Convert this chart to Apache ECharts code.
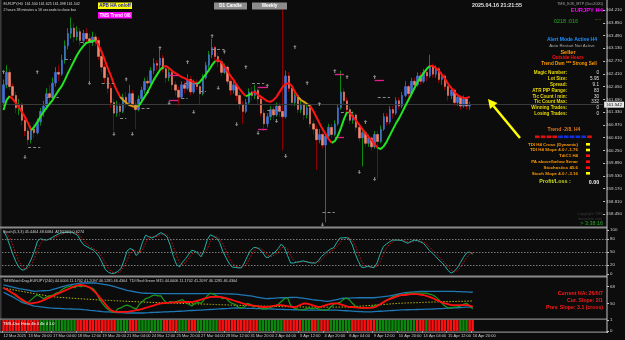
<!DOCTYPE html>
<html><head><meta charset="utf-8">
<script src="https://cdn.jsdelivr.net/npm/echarts@6/dist/echarts.min.js"></script>
<style>html,body{margin:0;padding:0;background:#0c0c0c;overflow:hidden}#c{width:625px;height:340px}</style>
</head><body><div id="c"></div><script>
// ---- DATA ----
// candles: [open, close, low, high] for each H4 bar, 12 Mar 12:00 .. 16 Apr 20:00
const candles = [
[161.60,162.10,161.50,162.25],[162.10,162.45,162.00,162.65],[162.45,162.05,161.95,162.55],[162.05,161.80,161.65,162.15],[161.80,161.45,161.30,161.90],
[161.45,161.55,161.25,161.70],[161.55,161.10,160.95,161.60],[161.10,160.80,160.65,161.20],[160.80,160.55,160.40,160.90],[160.55,160.85,160.45,160.95],
[160.85,160.75,160.60,161.00],[160.75,161.05,160.70,161.15],[161.05,161.35,160.95,161.45],[161.35,161.50,161.20,161.65],[161.50,161.85,161.40,162.00],
[161.85,161.75,161.60,162.10],[161.75,162.15,161.70,162.30],[162.15,162.45,162.05,162.60],[162.45,162.40,162.20,162.65],[162.40,162.80,162.35,162.95],
[162.80,163.20,162.70,163.35],[163.20,163.55,163.10,163.70],[163.55,163.70,163.40,164.00],[163.70,163.45,163.30,163.85],[163.45,163.60,163.35,163.75],
[163.60,163.35,163.20,163.70],[163.35,163.55,163.25,163.65],[163.55,163.40,163.30,163.70],[163.40,163.30,162.20,163.55],[163.30,163.45,163.20,163.60],
[163.45,163.35,163.20,163.55],[163.35,162.90,162.80,163.45],[162.90,162.60,162.45,163.00],[162.60,162.30,162.15,162.70],[162.30,162.00,161.85,162.40],
[162.00,161.60,161.45,162.10],[161.60,161.30,160.80,161.70],[161.30,161.50,161.20,161.65],[161.50,161.35,161.20,161.60],[161.35,161.75,161.30,161.85],
[161.75,161.60,161.45,161.90],[161.60,161.85,161.50,162.10],[161.85,161.55,161.45,161.95],[161.55,161.40,160.85,161.65],[161.40,161.70,161.35,161.80],
[161.70,161.95,161.60,162.05],[161.95,162.20,161.85,162.30],[162.20,162.15,162.00,162.35],[162.15,162.50,162.10,162.60],[162.50,162.70,162.40,162.85],
[162.70,162.65,162.50,162.80],[162.65,162.85,162.55,163.10],[162.85,162.55,162.45,162.95],[162.55,162.30,162.15,162.65],[162.30,162.45,162.20,162.55],
[162.45,162.10,161.95,162.50],[162.10,161.95,161.80,162.20],[161.95,161.75,161.50,162.05],[161.75,162.10,161.70,162.20],[162.10,162.00,161.85,162.20],
[162.00,162.25,161.95,162.40],[162.25,161.90,161.80,162.35],[161.90,162.15,161.85,162.25],[162.15,162.05,161.95,162.25],[162.05,161.85,161.55,162.10],
[161.85,162.30,161.80,162.40],[162.30,162.65,162.25,162.75],[162.65,162.95,162.55,163.05],[162.95,163.15,162.85,163.40],[163.15,162.90,162.80,163.20],
[162.90,162.75,162.60,163.00],[162.75,162.45,162.35,162.85],[162.45,162.60,162.40,162.70],[162.60,162.20,162.10,162.65],[162.20,161.95,161.80,162.30],
[161.95,162.10,161.85,162.20],[162.10,161.80,161.65,162.15],[161.80,161.55,161.40,161.90],[161.55,161.35,161.00,161.65],[161.35,161.60,161.30,161.70],
[161.60,161.90,161.55,162.00],[161.90,161.80,161.65,162.05],[161.80,161.95,161.70,162.10],[161.95,161.70,161.55,162.05],[161.70,161.30,161.20,161.80],
[161.30,161.00,160.80,161.40],[161.00,161.20,160.90,161.30],[161.20,161.40,161.10,161.50],[161.40,161.25,161.10,161.50],[161.25,161.50,161.20,161.60],
[161.50,161.35,161.20,161.60],[161.35,161.20,160.25,164.40],[161.20,162.35,161.15,162.50],[162.35,162.00,161.90,162.45],[162.00,161.60,161.50,162.10],
[161.60,161.80,161.50,161.95],[161.80,161.40,161.30,161.85],[161.40,161.55,161.30,161.65],[161.55,161.25,161.10,161.60],[161.25,161.45,161.15,161.55],
[161.45,161.00,160.90,161.50],[161.00,160.85,160.70,161.10],[160.85,160.55,159.70,160.95],[160.55,160.70,160.45,160.85],[160.70,160.40,160.30,160.75],
[160.40,160.65,158.22,160.75],[160.65,160.90,160.55,161.00],[160.90,160.70,160.60,161.00],[160.70,161.00,160.65,161.10],[161.00,161.45,160.95,161.55],
[161.45,161.90,161.40,162.50],[161.90,161.65,161.55,162.00],[161.65,161.40,161.30,161.75],[161.40,161.10,161.00,161.50],[161.10,161.25,161.00,161.35],
[161.25,160.90,160.80,161.30],[160.90,160.60,160.50,161.00],[160.60,160.75,159.80,160.85],[160.75,160.45,160.35,160.80],[160.45,160.60,160.35,160.70],
[160.60,160.35,160.25,160.65],[160.35,160.70,160.30,160.80],[160.70,160.50,159.45,160.80],[160.50,160.85,160.45,160.95],[160.85,161.20,160.80,161.30],
[161.20,161.05,160.95,161.30],[161.05,161.40,161.00,161.50],[161.40,161.30,161.15,161.50],[161.30,161.65,161.25,161.75],[161.65,161.50,161.40,161.75],
[161.50,161.80,161.45,161.90],[161.80,162.05,161.75,162.20],[162.05,161.85,161.75,162.10],[161.85,162.20,161.80,162.30],[162.20,162.10,161.95,162.30],
[162.10,162.35,162.05,162.45],[162.35,162.20,162.10,162.45],[162.20,162.45,162.15,162.55],[162.45,162.35,162.20,162.55],[162.35,162.60,162.30,162.95],
[162.60,162.40,162.30,162.70],[162.40,162.55,162.30,162.65],[162.55,162.25,162.15,162.60],[162.25,162.35,162.10,162.45],[162.35,162.05,161.95,162.40],
[162.05,161.80,161.65,162.10],[161.80,161.95,161.70,162.05],[161.95,161.60,161.50,162.00],[161.60,161.75,161.50,161.85],[161.75,161.50,161.40,161.80],
[161.50,161.70,161.45,161.80],[161.70,161.50,161.40,161.75],[161.500,161.542,161.398,161.625]
];
const lastPrice = 161.542;
// trend line (HA trend) value per bar, and its colour runs (g=up, r=down, o=flat)
const trend = [
161.39,161.67,161.78,161.70,161.59,161.47,161.33,161.19,161.02,160.82,
160.91,161.05,161.19,161.33,161.45,161.56,161.67,161.81,161.95,162.07,
162.24,162.43,162.60,162.77,162.94,163.08,163.19,163.28,163.31,163.34,
163.34,163.22,163.03,162.80,162.57,162.35,162.12,161.93,161.76,161.67,
161.59,161.53,161.50,161.47,161.50,161.62,161.76,161.90,162.07,162.24,
162.38,162.52,162.60,162.63,162.57,162.49,162.43,162.38,162.32,162.29,
162.24,162.21,162.18,162.12,162.18,162.29,162.40,162.52,162.66,162.77,
162.80,162.74,162.63,162.49,162.35,162.24,162.09,161.98,161.87,161.78,
161.81,161.87,161.90,161.81,161.76,161.70,161.64,161.62,161.67,161.76,
161.90,162.04,162.12,162.15,162.07,161.90,161.76,161.67,161.62,161.56,
161.50,161.36,161.19,161.02,160.85,160.71,160.57,160.46,160.51,160.66,
160.88,161.13,161.33,161.30,161.19,161.08,160.97,160.85,160.74,160.63,
160.54,160.43,160.32,160.29,160.37,160.51,160.68,160.85,161.02,161.16,
161.33,161.50,161.67,161.84,162.01,162.18,162.32,162.43,162.55,162.63,
162.63,162.57,162.49,162.38,162.26,162.12,162.01,161.90,161.81,161.76,
161.73,161.73,161.76
];
const trendRuns = [['g',3],['r',7],['g',21],['r',8],['o',6],['g',8],['r',11],['g',6],['r',10],['g',2],['r',15],['o',4],['r',7],['g',5],['r',10],['g',17],['r',13]];
// fractal arrows: [bar, price]
const fractalUp = [[0,162.46],[11,162.46],[40,162.26],[51,163.14],[60,162.74],[68,163.48],[72,163.03],[79,162.60],[86,162.07],[95,163.17],[99,162.15],[103,161.56],[108,162.49],[112,162.32],[118,161.05],[121,162.32]];
const fractalDown = [[7,160.06],[28,162.15],[36,160.71],[42,160.71],[47,161.90],[54,161.59],[62,161.33],[70,162.01],[76,160.99],[83,160.74],[89,161.08],[92,160.09],[104,158.15],[116,159.64],[121,159.44]];
// short level segments: [fromBar, toBar, price]
const grayLevels = [[8,12,160.34],[14,18,161.76],[20,22,162.83],[25,30,163.31],[32,36,162.15],[38,40,161.16],[45,48,161.45],[58,60,161.73],[59,64,162.15],[64,66,161.92],[68,72,163.11],[81,85,162.15],[86,90,161.39],[104,108,158.51],[110,114,161.33],[122,126,161.76]];
const magentaLevels = [[54,57,162.38],[54,57,161.67],[83,86,162.04],[83,86,160.85],[108,111,162.40],[108,111,160.63],[121,124,162.24]];
// Stochastic(5,3,3)
const stochK = [98,85,65,45,28,15,9,10,20,34,
52,75,80,78,77,80,84,88,92,94,
95,95,95,92,88,75,66,62,58,55,
48,39,25,10,4,1,2,6,12,30,
52,58,55,42,50,72,88,85,82,85,
90,94,90,84,65,40,22,16,27,35,
45,54,52,47,39,55,78,89,86,82,
72,52,38,25,16,15,14,14,25,40,
53,60,60,56,48,38,38,45,50,58,
68,60,42,25,25,27,28,30,28,26,
25,25,30,40,46,52,57,60,72,82,
82,83,80,66,45,28,15,15,18,16,
14,25,45,62,68,73,77,77,77,76,
73,70,74,77,76,73,70,62,53,47,
40,32,26,18,8,2,6,14,26,38,
48,50,45.4464];
const stochD = [95,92,83,65,46,29,17,11,13,21,
35,54,69,78,78,78,80,84,88,91,
94,95,95,94,92,85,76,68,62,58,
54,47,37,25,13,5,2,3,7,16,
31,47,55,52,49,55,70,82,85,84,
86,90,91,89,80,63,42,26,22,26,
36,45,50,51,46,47,57,74,84,86,
80,69,54,38,26,19,15,14,18,26,
39,51,58,59,55,47,41,40,44,51,
59,62,57,42,31,26,27,28,28,28,
26,25,27,32,39,46,52,56,63,71,
79,82,82,76,64,46,29,19,16,16,
16,18,28,44,58,68,73,76,77,77,
75,73,72,74,76,75,73,68,62,54,
47,40,33,25,17,9,5,7,15,26,
37,45,48.6084];
// TDI lines
const tdiGreen = [67,65,63,61,58,56,53,51,51,54,
57,59,57,55,57,58,59,61,62,65,
67,68,69,67,69,68,69,68,67,66,
62,55,50,46,43,41,40,44,45,47,
48,47,45,44,49,52,55,56,58,59,
58,58,53,50,52,51,52,53,54,51,
49,47,50,51,50,54,58,61,60,58,
57,55,56,52,50,49,46,45,46,50,
49,46,47,45,44,43.8,45,46,47,49,
52,55,56,48,45,44,43,43,44,45,
44,45,44,43,42.7,43,46,49,50,51,
54,55.7,54,50,47,46,45,45,45,46,
47,48,48,51,53,55,57,58,59,59,
60,61,61,61,61,61,61,61,60,59,
57,54,50,47,45,45,46,46,47,49,
50,47,44];
const tdiRed = [66.6,65,63,61,59,56,54,52,50,50,
50.5,51,52,53.5,55,56.5,58,59.5,61,62.5,
64,65.5,67,68.5,69.5,70,69.5,68.5,67,64,
61,57,53,49,45,42,41,40.6,40.6,40.6,
40.8,41.2,41.8,42.5,43,44,45,46,47,48,
49,50,50.3,50.5,50.7,51,51,51.2,51.3,51.4,
51.4,51.4,52,53,54,55,56,57,57,57,
57,56.5,55.5,54.5,53.6,52.5,51.5,50.5,49.5,48.5,
48,47.5,47,46.5,46,46,46.5,47,47.5,48,
48,47.5,47,46.5,46,46.5,48,49.5,50,49,
48,47,46,46.5,47.5,48.5,49.5,50,50,49,
48,47,46,46,45.5,45.2,45,45,45,45,
45.5,47,49,51,53,54.5,55.7,57,58,59,
59,59.5,60,60,60,59.5,59,58,57,55.7,
54,52.5,51,50,49,48,48,48,48,48,
48,47.5,46.4];
const tdiYellow = [66.5,65.9,65.3,64.7,64.1,63.5,62.9,62.3,61.7,61.1,60.5,59.9,59.3,58.7,58.1,57.5,57.0,
56.8,56.5,56.3,56.0,55.8,55.6,55.3,55.1,54.9,54.7,54.5,54.3,54.0,53.8,53.6,
53.5,53.3,53.2,53.0,52.8,52.7,52.5,52.3,52.2,52.0,51.9,51.7,51.5,51.4,51.2,51.1,51.0,50.9,50.7,50.6,50.4,50.3,
50.2,50.1,50.0,49.9,49.8,49.7,49.6,49.5,49.4,49.3,49.2,49.1,49.0,48.9,48.8,48.6,48.5,48.4,48.3,48.1,48.0,
47.9,47.8,47.7,47.6,47.5,47.4,47.3,47.2,47.1,47.0,46.9,46.8,46.7,46.6,46.5,46.4,46.4,46.3,46.2,46.1,46.1,46.0,
46.0,45.9,45.9,45.9,45.8,45.8,45.8,45.8,45.8,45.8,45.9,45.9,45.9,46.0,46.0,46.0,
46.2,46.5,46.7,47.0,47.2,47.5,47.7,48.0,48.2,48.5,48.7,49.0,49.2,49.5,49.7,50.0,
50.1,50.3,50.4,50.5,50.6,50.7,50.8,51.0,51.1,51.2,51.4,
51.5,51.6,51.7,51.8,51.8,51.9,52.0,52.1,52.2,52.2,52.3,52.4,52.5];
const tdiUpper = [70,69.2,68.4,67.6,66.8, 66,65.4,64.8,64.2,63.6, 63,63.2,63.4,63.6,63.8, 64,65,66,67,68,
69,69.6,70.2,70.8,71.4, 72,72,72,72,72, 72,71.4,70.8,70.2,69.6, 69,68,67,66,65,
64,63.4,62.8,62.2,61.6, 61,60.9,60.8,60.7,60.6, 60.5,60.5,60.5,60.5,60.5, 60.5,60.5,60.5,60.5,60.5,
60.5,60.5,60.5,60.5,60.5, 60.5,60.5,60.5,60.5,60.5, 60.5,60.4,60.3,60.2,60.1, 60,59.6,59.2,58.8,58.4,
58,57.4,56.8,56.2,55.6, 55,55.2,55.4,55.6,55.8, 56,56.1,56.2,56.3,56.4, 56.5,56,55.5,55,54.5,
54,53.6,53.2,52.8,52.4, 52,52.7,53.4,54.1,54.8, 55.5,55.6,55.7,55.8,55.9, 56,56,56,56,56,
56,56.4,56.8,57.2,57.6, 58,58.7,59.4,60.1,60.8, 61.5,61.8,62.1,62.4,62.7, 63,63,63,63,63,
63,63,63,63,63, 63,62.9,62.7,62.6,62.4, 62.3,62.1,62];
const tdiLower = [62,60.3,58.6,57,55, 53,51,50,49,48, 47,46.6,46.2,45.8,45.4, 45,44.8,44.6,44.4,44.2,
44,43.9,43.8,43.7,43.6, 43.5,43.1,42.8,42.4,42.1, 41.7,41.4,41,40.8,40.6, 40.4,40.2,40,39.8,39.6,
39.5,39.5,39.5,39.5,39.5, 39.5,39.7,39.8,40,40.1, 40.3,40.4,40.6,40.7,40.9, 41,41.2,41.4,41.6,41.8,
42,42.2,42.3,42.5,42.7, 42.9,43.1,43.3,43.5,43.7, 43.9,44.1,44.3,44.5,44.8, 45,44.9,44.8,44.7,44.6,
44.5,44.4,44.3,44.2,44.1, 44,43.9,43.8,43.7,43.5, 43.4,43.3,43.2,43.1,43, 42.9,42.8,42.7,42.7,42.7,
42.7,42.7,42.7,42.7,42.7, 42.7,42.7,42.7,42.5,42.3, 42.1,41.9,41.7,41.5,41.3, 41.1,40.9,40.7,40.6,40.8,
41,41.2,41.4,41.6,41.8, 42,42.2,42.4,42.7,42.8, 42.9,43,43.1,43.2,43.3, 43.4,43.5,43.6,43.7,43.8,
44,44.2,44.3,44.5,44.7, 44.8,45,45.2,45.4,45.6, 45.8,45.9,46];
// histogram colour runs (r = red, g = green)
const histRuns = [['r',12],['g',12],['r',13],['g',4],['r',3],['g',8],['r',5],['g',3],['r',3],['g',7],['r',13],['g',8],['r',6],['g',3],['r',2],['g',1],['r',3],['g',7],['r',8],['g',13],['r',3],['g',1],['r',10],['g',3],['r',2]];
// axis tick labels
const timeLabels = ['12 Mar 2025','13 Mar 20:00','17 Mar 04:00','18 Mar 12:00','19 Mar 20:00','21 Mar 04:00','24 Mar 12:00','25 Mar 20:00','27 Mar 04:00','28 Mar 12:00','31 Mar 20:00','2 Apr 04:00','3 Apr 12:00','4 Apr 20:00','8 Apr 04:00','9 Apr 12:00','10 Apr 20:00','14 Apr 04:00','15 Apr 12:00','16 Apr 20:00'];
const priceTicks = [164.210,163.850,163.490,163.130,162.770,162.410,162.050,161.690,161.330,160.970,160.610,160.250,159.890,159.530,159.170,158.810,158.450];
const stochTicks = [100,80,50,20,0];
const stochLevels = [80,50,20];
const tdiTicks = [68,50];
const histTicks = [1,0];

// ---- BUILD ----
const N = candles.length, SLOTS = 196, LABEL_STEP = 8;
const categories = []; for (let i = 0; i < SLOTS; i++) categories.push(String(i));
const expand = runs => { const o = []; runs.forEach(([c, n]) => { for (let k = 0; k < n; k++) o.push(c); }); return o; };
const trendCol = expand(trendRuns), histCol = expand(histRuns);
const trendPart = col => trend.map((v, i) => (trendCol[i] === col || trendCol[i + 1] === col) ? v : null);
const bodies = candles.map(([o, c]) => [o, c, Math.min(o, c), Math.max(o, c)]);
const segs = list => list.map(([a, b, p]) => [{coord: [a, p]}, {coord: [b, p]}]);
const ARROW = 'path://M5,0 L10,5 L6.6,5 L6.6,10 L3.4,10 L3.4,5 L0,5 Z';

const BG = '#0c0c0c', AX = '#c4c4c4';
const FONT = '"Liberation Sans", Arial, sans-serif';
const grids = [
  {left: 2, right: 18, top: 2, height: 224},
  {left: 2, right: 18, top: 230, height: 44},
  {left: 2, right: 18, top: 278, height: 40},
  {left: 2, right: 18, top: 320, height: 11}
];
const xAxes = grids.map((g, gi) => ({
  type: 'category', gridIndex: gi, data: categories, boundaryGap: true,
  axisLine: {show: false}, splitLine: {show: false},
  axisTick: gi === 3 ? {show: true, interval: i => i % LABEL_STEP === 0 && i < N, length: 2, lineStyle: {color: AX}} : {show: false},
  axisLabel: gi === 3 ? {show: true, interval: i => i % LABEL_STEP === 0 && i < N, hideOverlap: false,
    formatter: (v, i) => timeLabels[i / LABEL_STEP] || '', align: 'left', margin: 3,
    color: '#d0d0d0', fontSize: 4, fontFamily: FONT} : {show: false}
}));
const yAx = (gi, min, max, ticks, fmt) => ({
  type: 'value', gridIndex: gi, position: 'right', min, max, scale: true,
  axisLine: {show: false}, splitLine: {show: false},
  axisTick: {show: true, customValues: ticks, length: 2, lineStyle: {color: AX}},
  axisLabel: {show: true, customValues: ticks, formatter: fmt, color: '#d0d0d0', fontSize: 4.4, fontFamily: FONT, margin: 3}
});
const yAxes = [
  yAx(0, 158.117, 164.436, priceTicks, v => v.toFixed(3)),
  yAx(1, 0, 100, stochTicks, v => String(v)),
  yAx(2, 34.06, 77.44, tdiTicks, v => String(v)),
  yAx(3, 0, 1, histTicks, v => String(v))
];

const series = [
  {type: 'candlestick', xAxisIndex: 0, yAxisIndex: 0, data: candles, barWidth: 1, z: 2,
   itemStyle: {color: '#0b8a0b', color0: '#8b0000', borderColor: '#0b8a0b', borderColor0: '#8b0000', borderWidth: 1},
   markLine: {silent: true, symbol: 'none', label: {show: false}, data: segs(grayLevels),
     lineStyle: {color: '#8c8c8c', width: 1, type: [3, 2]}}},
  {type: 'candlestick', xAxisIndex: 0, yAxisIndex: 0, data: bodies, barWidth: 2, z: 3,
   itemStyle: {color: '#4472d8', color0: '#f4876b', borderColor: '#4472d8', borderColor0: '#f4876b', borderWidth: 0.6},
   markLine: {silent: true, symbol: 'none', data: [{yAxis: lastPrice}],
     lineStyle: {color: '#3a3a3a', width: 1, type: 'solid'},
     label: {show: true, position: 'end', distance: 1, formatter: lastPrice.toFixed(3), color: '#000', backgroundColor: '#e8e8e8', fontSize: 4.4, fontFamily: FONT, padding: [1, 2]}}},
  {type: 'line', xAxisIndex: 0, yAxisIndex: 0, data: trendPart('o'), symbol: 'none', z: 4, lineStyle: {color: '#d4a017', width: 2},
   markLine: {silent: true, symbol: 'none', label: {show: false}, data: segs(magentaLevels),
     lineStyle: {color: '#e0208c', width: 1.3, type: 'solid'}}},
  {type: 'line', xAxisIndex: 0, yAxisIndex: 0, data: trendPart('r'), symbol: 'none', z: 4, lineStyle: {color: '#ff1414', width: 2}},
  {type: 'line', xAxisIndex: 0, yAxisIndex: 0, data: trendPart('g'), symbol: 'none', z: 5, lineStyle: {color: '#22e622', width: 2}},
  {type: 'scatter', xAxisIndex: 0, yAxisIndex: 0, data: fractalUp, symbol: ARROW, symbolSize: [3.5, 4], z: 6, itemStyle: {color: '#a8a8a8'}},
  {type: 'scatter', xAxisIndex: 0, yAxisIndex: 0, data: fractalDown, symbol: ARROW, symbolRotate: 180, symbolSize: [3.5, 4], z: 6, itemStyle: {color: '#a8a8a8'}},
  // stochastic
  {type: 'line', xAxisIndex: 1, yAxisIndex: 1, data: stochD, symbol: 'none', lineStyle: {color: '#d01010', width: 1, type: [1.5, 1.5]}},
  {type: 'line', xAxisIndex: 1, yAxisIndex: 1, data: stochK, symbol: 'none', lineStyle: {color: '#20b2aa', width: 1},
   markLine: {silent: true, symbol: 'none', label: {show: false}, data: stochLevels.map(v => ({yAxis: v})),
     lineStyle: {color: '#7a7a7a', width: 1, type: [1.5, 1.5]}}},
  // TDI
  {type: 'line', xAxisIndex: 2, yAxisIndex: 2, data: tdiUpper, symbol: 'none', lineStyle: {color: '#1f78b4', width: 1.3}},
  {type: 'line', xAxisIndex: 2, yAxisIndex: 2, data: tdiLower, symbol: 'none', lineStyle: {color: '#1f78b4', width: 1.3}},
  {type: 'line', xAxisIndex: 2, yAxisIndex: 2, data: tdiYellow, symbol: 'none', lineStyle: {color: '#b8b800', width: 1, type: [1.5, 1.5]}},
  {type: 'line', xAxisIndex: 2, yAxisIndex: 2, data: tdiGreen, symbol: 'none', lineStyle: {color: '#1c9a1c', width: 1.2}},
  {type: 'line', xAxisIndex: 2, yAxisIndex: 2, data: tdiRed, symbol: 'none', lineStyle: {color: '#ff1010', width: 1.8}},
  // histogram
  {type: 'bar', xAxisIndex: 3, yAxisIndex: 3, barCategoryGap: '22%',
   data: histCol.map(c => ({value: 1, itemStyle: {color: c === 'r' ? '#ff1010' : '#0a8a0a'}}))}
];

// ---- decorations / overlay texts ----
const T = (x, y, text, fill, size, opts = {}) => ({type: 'text', x, y, z: 50, silent: true,
  style: {text, fill, font: (opts.bold ? 'bold ' : '') + size + 'px ' + FONT, align: opts.align || 'left', verticalAlign: 'middle'}});
const R = (x, y, w, h, fill, z = 40) => ({type: 'rect', z, silent: true, shape: {x, y, width: w, height: h}, style: {fill}});
const graphic = [
  R(0, 0, 1.5, 333, '#3c3c3c'),
  R(0, 226.5, 607, 2, '#8a8a8a'), R(0, 275.5, 607, 2, '#8a8a8a'), R(0, 318.5, 607, 1.2, '#8a8a8a'), R(0, 331.6, 607, 1.2, '#8a8a8a'),
  R(606.5, 0, 1, 333, AX),
  T(3.5, 4, 'EURJPY,H4  161.500 161.625 161.398 161.542', '#d8d8d8', 3.6),
  T(3.5, 9.5, '2 hours 38 minutes a 16 seconds to close bar', '#d8d8d8', 3.6),
  R(98, 2.5, 34, 6.5, '#ffff00'), T(115, 5.8, 'APB HA on/off', '#1010d0', 4.6, {bold: true, align: 'center'}),
  R(98, 12, 34, 6.5, '#ff00ff'), T(115, 15.3, 'TMS Trend 0/8', '#ffffff', 4.6, {bold: true, align: 'center'}),
  R(214, 2.5, 33, 7, '#8c8c8c'), T(230.5, 6, 'D1 Candle', '#ffffff', 4.6, {bold: true, align: 'center'}),
  R(252, 2.5, 35, 7, '#8c8c8c'), T(269.5, 6, 'Weekly', '#ffffff', 4.6, {bold: true, align: 'center'}),
  T(497, 6, '2025.04.16 21:21:55', '#e0e0e0', 5.4, {bold: true, align: 'center'}),
  T(603, 4, 'TMS_EJS_MTP (Dec2020)', '#a0a0a0', 3.8, {align: 'right'}),
  T(603, 10.5, 'EURJPY H4', '#ff00ff', 5.8, {bold: true, align: 'right'}),
  T(566, 21.7, '0218 :016', '#22b022', 5.4, {align: 'center'}),
  T(598, 19, '.....', '#c8c800', 4.5, {align: 'center'}),
  T(572, 40, 'Alert Mode Active H4', '#1e90ff', 5, {bold: true, align: 'center'}),
  T(572, 45.5, 'Auto Restart Not Active', '#a8a8a8', 4.4, {align: 'center'}),
  T(568, 52.3, 'Seller', '#ff9900', 5.6, {bold: true, align: 'center'}),
  T(568, 57.8, 'Outside Hours', '#ff1010', 4.6, {bold: true, align: 'center'}),
  T(569, 63.4, 'Trend Dwn *** Strong Sell', '#ff9900', 4.6, {bold: true, align: 'center'}),
  T(567, 72.7, 'Magic Number:', '#e8d800', 4.6, {bold: true, align: 'right'}), T(599, 72.7, '0', '#e0e0e0', 4.6, {align: 'right'}),
  T(567, 78.7, 'Lot Size:', '#e8d800', 4.6, {bold: true, align: 'right'}), T(599, 78.7, '5.95', '#e0e0e0', 4.6, {align: 'right'}),
  T(567, 84.7, 'Spread:', '#e8d800', 4.6, {bold: true, align: 'right'}), T(599, 84.7, '9.1', '#e0e0e0', 4.6, {align: 'right'}),
  T(567, 90.7, 'ATR PIP Range:', '#e8d800', 4.6, {bold: true, align: 'right'}), T(599, 90.7, '83', '#e0e0e0', 4.6, {align: 'right'}),
  T(567, 96.3, 'Tic Count / min:', '#e8d800', 4.6, {bold: true, align: 'right'}), T(599, 96.3, '30', '#e0e0e0', 4.6, {align: 'right'}),
  T(567, 101.7, 'Tic Count Max:', '#e8d800', 4.6, {bold: true, align: 'right'}), T(599, 101.7, '332', '#e0e0e0', 4.6, {align: 'right'}),
  T(567, 107.5, 'Winning Trades:', '#e8d800', 4.6, {bold: true, align: 'right'}), T(599, 107.5, '0', '#e0e0e0', 4.6, {align: 'right'}),
  T(567, 113.3, 'Losing Trades:', '#e8d800', 4.6, {bold: true, align: 'right'}), T(599, 113.3, '0', '#e0e0e0', 4.6, {align: 'right'}),
  T(564, 130, 'Trend -2/8. H4', '#e07820', 5, {bold: true, align: 'center'}),
  T(578, 144.3, 'TDI H4 Cross (Dynamic)', '#ff9900', 4.4, {bold: true, align: 'right'}), R(586, 143, 4, 2.6, '#ffff00', 51),
  T(578, 150, 'TDI H4 Slope 4.0 / -1.76', '#ff9900', 4.4, {bold: true, align: 'right'}), R(586, 148.7, 4, 2.6, '#ffff00', 51),
  T(578, 155.7, 'TdiC1 H4', '#ff9900', 4.4, {bold: true, align: 'right'}), R(586, 154.4, 4, 2.6, '#ff1010', 51),
  T(578, 161.7, 'PA above/below Senar', '#ff9900', 4.4, {bold: true, align: 'right'}), R(586, 160.4, 4, 2.6, '#ff1010', 51),
  T(578, 167.7, 'Stochastics 45.6', '#ff9900', 4.4, {bold: true, align: 'right'}), R(586, 166.4, 4, 2.6, '#ff1010', 51),
  T(578, 173.3, 'Stoch Slope 4.0 / -3.16', '#ff9900', 4.4, {bold: true, align: 'right'}), R(586, 172, 4, 2.6, '#ffff00', 51),
  T(555, 181.7, 'Profit/Loss :', '#c8d820', 5.4, {bold: true, align: 'center'}),
  T(594, 183, '0.00', '#f0f0f0', 5.4, {bold: true, align: 'center'}),
  T(590, 214, 'Copyright TMS', '#3a3a3a', 3.8, {align: 'center'}),
  T(590, 219, 'tmsystem.com', '#3a3a3a', 3.8, {align: 'center'}),
  T(603, 224, '> 3:38:16', '#22b022', 5.4, {align: 'right'}),
  T(3, 232, 'Stoch(5,3,3) 45.4464 48.6084  ATR(100) 0.6274', '#d0d0d0', 3.8, {}),
  T(3, 280.7, 'TMSWatchDog-EURJPY(240) 44.0006 11.1702 41.2097 46.1285 46.4304  TDI Red Green M15 44.0006 11.1702 41.2097 46.1285 46.4304', '#d0d0d0', 3.8, {}),
  T(3, 323.5, 'TMS-Doc Histo 4b 4 4b 4 1.0', '#ffffff', 4, {}),
  T(603, 293.3, 'Current HA: 26/0/7', '#ff1a1a', 5.2, {bold: true, align: 'right'}),
  T(603, 300.5, 'Cur. Slope: 2/1', '#ff1a1a', 5.2, {bold: true, align: 'right'}),
  T(603, 308, 'Prev. Slope: 3.1 (cross)', '#ff1a1a', 5.2, {bold: true, align: 'right'}),
  {type: 'polyline', z: 60, silent: true, shape: {points: [[520, 138], [493.5, 106]]}, style: {stroke: '#ffff00', lineWidth: 2.5}},
  {type: 'polygon', z: 60, silent: true, shape: {points: [[488, 99], [497.5, 103], [490, 109]]}, style: {fill: '#ffff00'}}
];
// trend squares
const sq = ['r','r','r','r','b','b','b','b','b','r'];
sq.forEach((c, k) => graphic.push(R(535 + k * 5.8, 135.5, 4.6, 2.6, c === 'r' ? '#e01010' : '#1030e0', 51)));

const arrs = {candles, trend, stochK, stochD, tdiGreen, tdiRed, tdiYellow, tdiUpper, tdiLower, trendCol, histCol};
const bad = Object.entries(arrs).filter(([k, a]) => a.length !== N).map(([k, a]) => k + ':' + a.length);
if (bad.length) graphic.push(T(150, 60, 'LEN ' + bad.join(' '), '#ffffff', 8));

const chart = echarts.init(document.getElementById('c'), null, {renderer: 'canvas'});
chart.setOption({
  backgroundColor: BG, animation: false,
  grid: grids, xAxis: xAxes, yAxis: yAxes, series, graphic
});
</script></body></html>
